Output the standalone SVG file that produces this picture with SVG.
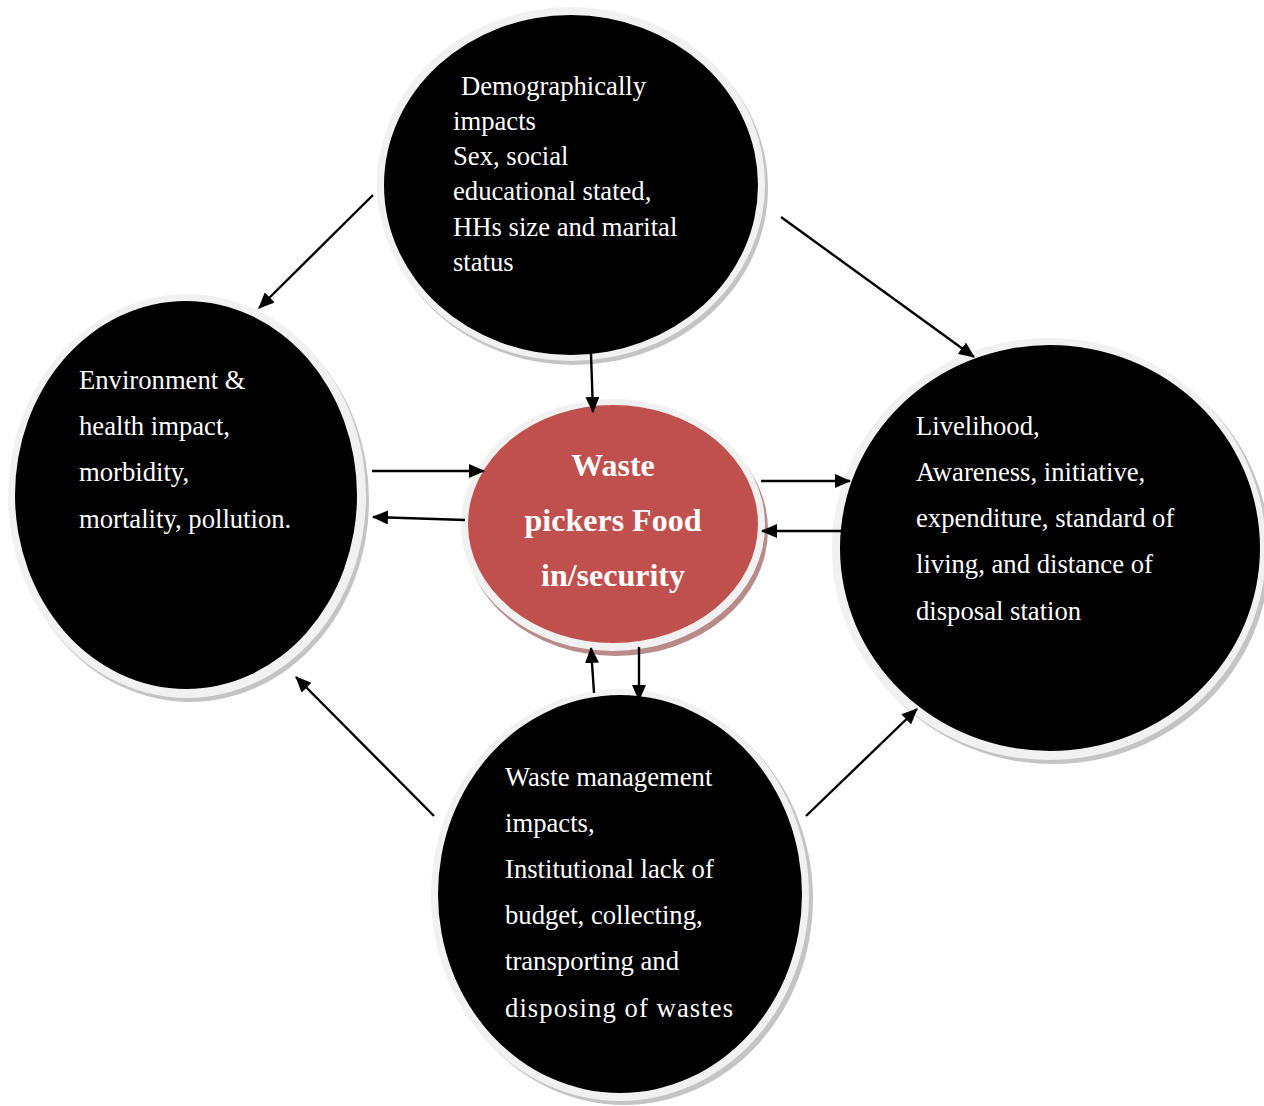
<svg xmlns="http://www.w3.org/2000/svg" width="1264" height="1106" viewBox="0 0 1264 1106">
<style>
.ring{fill:#f1f1f1;}
.shadow{fill:#c4c4c4;}
.body{fill:#000;}
.t{font-family:"Liberation Serif","Times New Roman",serif;font-size:26.67px;fill:#fff;}
.c{font-family:"Liberation Serif","Times New Roman",serif;font-size:32px;font-weight:bold;fill:#fff;text-anchor:middle;}
.a{stroke:#000;stroke-width:2.4;fill:none;marker-end:url(#ah);}
</style>
<defs>
<marker id="ah" markerUnits="userSpaceOnUse" markerWidth="16" markerHeight="14" refX="15" refY="7" orient="auto" viewBox="0 0 16 14">
<path d="M0,0 L16,7 L0,14 z" fill="#000"/>
</marker>
</defs>
<rect width="1264" height="1106" fill="#fff"/>

<g id="node-top">
<ellipse class="shadow" cx="574" cy="188" rx="194" ry="177"/>
<ellipse class="ring" cx="571" cy="184" rx="194" ry="177"/>
<ellipse class="body" cx="571" cy="185" rx="187" ry="170"/>
<text class="t"><tspan x="461" y="95">Demographically</tspan><tspan x="453" y="130">impacts</tspan><tspan x="453" y="165">Sex, social</tspan><tspan x="453" y="200">educational stated,</tspan><tspan x="453" y="236">HHs size and marital</tspan><tspan x="453" y="271">status</tspan></text>
</g>

<g id="node-left">
<ellipse class="shadow" cx="190" cy="500" rx="179" ry="202"/>
<ellipse class="ring" cx="187" cy="496" rx="179" ry="202"/>
<ellipse class="body" cx="186" cy="495" rx="171" ry="194"/>
<text class="t"><tspan x="79" y="389">Environment &amp;</tspan><tspan x="79" y="435">health impact,</tspan><tspan x="79" y="481">morbidity,</tspan><tspan x="79" y="528">mortality, pollution.</tspan></text>
</g>

<g id="node-right">
<ellipse class="shadow" cx="1053" cy="553" rx="217" ry="211"/>
<ellipse class="ring" cx="1049" cy="549" rx="217" ry="211"/>
<ellipse class="body" cx="1050" cy="548" rx="210" ry="203"/>
<text class="t"><tspan x="916" y="435">Livelihood,</tspan><tspan x="916" y="481">Awareness, initiative,</tspan><tspan x="916" y="527">expenditure, standard of</tspan><tspan x="916" y="573">living, and distance of</tspan><tspan x="916" y="620">disposal station</tspan></text>
</g>

<g id="node-bottom">
<ellipse class="shadow" cx="624" cy="899" rx="189" ry="206"/>
<ellipse class="ring" cx="620" cy="895" rx="189" ry="206"/>
<ellipse class="body" cx="620" cy="894" rx="182" ry="199"/>
<text class="t"><tspan x="505" y="786">Waste management</tspan><tspan x="505" y="832">impacts,</tspan><tspan x="505" y="878">Institutional lack of</tspan><tspan x="505" y="924">budget, collecting,</tspan><tspan x="505" y="970">transporting and</tspan></text>
<text class="t" x="505" y="1017" textLength="228" lengthAdjust="spacing">disposing of wastes</text>
</g>

<g id="node-center">
<ellipse cx="616" cy="530" rx="152" ry="126" fill="#b98a8a"/>
<ellipse class="ring" cx="613" cy="525" rx="152" ry="126"/>
<ellipse cx="613" cy="524" rx="145" ry="119" fill="#c0504d"/>
<text class="c"><tspan x="613" y="476">Waste</tspan><tspan x="613" y="531">pickers Food</tspan><tspan x="613" y="586">in/security</tspan></text>
</g>

<g id="connectors">
<line class="a" x1="373" y1="195" x2="259" y2="308"/>
<line class="a" x1="781" y1="217" x2="974" y2="357"/>
<line class="a" x1="591" y1="354" x2="593" y2="412"/>
<line class="a" x1="372" y1="471" x2="484" y2="471"/>
<line class="a" x1="465" y1="520" x2="373" y2="517"/>
<line class="a" x1="761" y1="481" x2="850" y2="481"/>
<line class="a" x1="842" y1="531" x2="762" y2="531"/>
<line class="a" x1="594" y1="693" x2="591" y2="648"/>
<line class="a" x1="639" y1="647" x2="639" y2="700"/>
<line class="a" x1="434" y1="816" x2="296" y2="677"/>
<line class="a" x1="806" y1="816" x2="917" y2="709"/>
</g>
</svg>
